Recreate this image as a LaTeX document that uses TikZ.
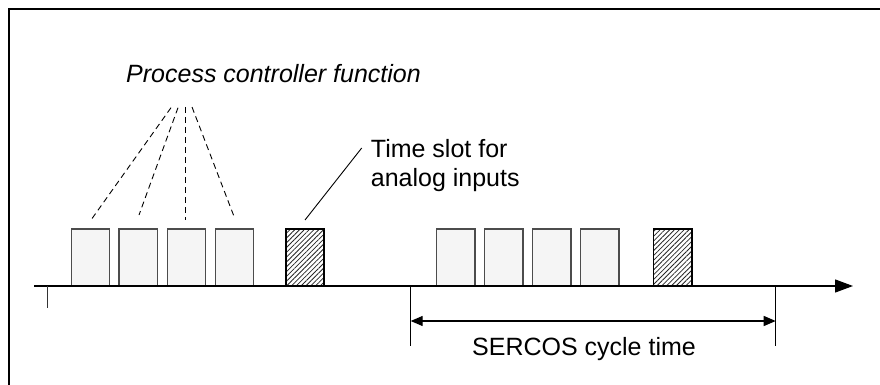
\documentclass[tikz,border=0pt]{standalone}
\usepackage{fontspec}
\setmainfont{Liberation Sans}
\usetikzlibrary{patterns.meta,arrows.meta}
\begin{document}
\begin{tikzpicture}[x=1pt,y=-1pt,
  slot/.style={draw=black!70,line width=1.2pt,fill=black!4,minimum width=38.3pt,minimum height=56.7pt,inner sep=0pt,anchor=north west},
  aslot/.style={draw=black,line width=1.6pt,pattern={Lines[angle=45,distance=3.4pt,line width=0.8pt]},pattern color=black!85,minimum width=38.3pt,minimum height=56.7pt,inner sep=0pt,anchor=north west},
  lbl/.style={font=\fontsize{25}{29.5}\selectfont,inner sep=0pt,anchor=base west},
  pcline/.style={line width=0.9pt,dash pattern=on 6pt off 4pt},
  tick/.style={line width=0.9pt},
  axis/.style={line width=1.3pt,-{Triangle[length=18pt,width=13pt]}},
  span/.style={line width=1.3pt,{Triangle[length=12pt,width=10pt]}-{Triangle[length=12pt,width=10pt]}}
]
\useasboundingbox (0,0) rectangle (880,385);
% frame
\draw[line width=2.4pt] (9,400) -- (9,9) -- (900,9);

% first cycle
\node[slot] (b1) at (70.7,228.3) {};
\node[slot] (b2) at (118.3,228.3) {};
\node[slot] (b3) at (166.7,228.3) {};
\node[slot] (b4) at (214.7,228.3) {};
\node[aslot] (h1) at (285.3,228.3) {};
% second cycle
\node[slot] (b5) at (436,228.3) {};
\node[slot] (b6) at (484,228.3) {};
\node[slot] (b7) at (532,228.3) {};
\node[slot] (b8) at (580,228.3) {};
\node[aslot] (h2) at (652.7,228.3) {};

% axis
\coordinate (axL) at (34,286);
\coordinate (axR) at (853,286);
\draw[axis] (axL) -- (axR);

% ticks
\coordinate (t0a) at (47.3,286); \coordinate (t0b) at (47.3,308);
\draw[line width=1.3pt,black!80] (t0a) -- (t0b);
\coordinate (t1a) at (410.7,286); \coordinate (t1b) at (410.7,346);
\coordinate (t2a) at (775.7,286); \coordinate (t2b) at (775.7,346);
\draw[tick] (t1a) -- (t1b);
\draw[tick] (t2a) -- (t2b);

% cycle time arrow
\coordinate (sA) at (410.7,321);
\coordinate (sB) at (775.7,321);
\draw[span] (sA) -- (sB);
\node[font=\fontsize{25}{29.5}\selectfont,inner sep=0pt,anchor=base] (sercos) at (584,355) {SERCOS cycle time};

% process controller label
\node[lbl,font=\fontsize{25}{29.5}\selectfont\itshape] (pc) at (126,82.3) {Process controller function};
\coordinate (p1) at (171,107.7); \coordinate (q1) at (91.7,219);
\coordinate (p2) at (178,107.7); \coordinate (q2) at (139,215);
\coordinate (p3) at (185.7,107); \coordinate (q3) at (185.7,220);
\coordinate (p4) at (192,107);   \coordinate (q4) at (235,219);
\draw[pcline] (p1) -- (q1);
\draw[pcline] (p2) -- (q2);
\draw[pcline] (p3) -- (q3);
\draw[pcline] (p4) -- (q4);

% time slot label
\node[lbl] (ts1) at (370.7,157.3) {Time slot for};
\node[lbl] (ts2) at (370.7,186.7) {analog inputs};
\coordinate (tsA) at (361.7,148);
\coordinate (tsB) at (305,220);
\draw[line width=0.9pt] (tsA) -- (tsB);
\end{tikzpicture}
\end{document}
